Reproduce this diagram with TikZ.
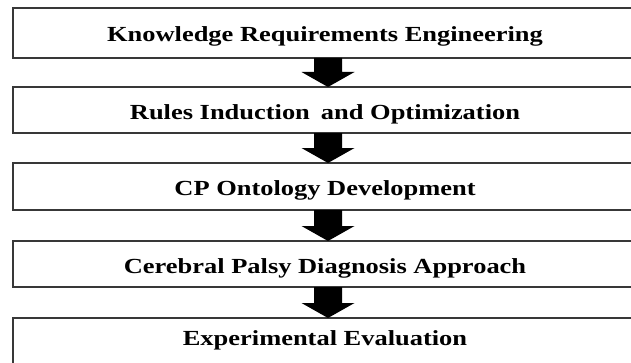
\documentclass[tikz,border=0pt]{standalone}
\usepackage{fontspec}
\setmainfont{Liberation Serif}
\usetikzlibrary{calc}
\definecolor{edge}{HTML}{383838}
\newcommand\wlbl[1]{\scalebox{1.23}[1]{#1}}
\newcommand\blockarr[2]{%
  \fill[black] ([xshift=-11pt]#1.south) -- ([xshift=-11pt,yshift=15pt]#2.north)
    -- ([xshift=-23.5pt,yshift=15pt]#2.north) -- ([xshift=3pt]#2.north)
    -- ([xshift=29.5pt,yshift=15pt]#2.north) -- ([xshift=17pt,yshift=15pt]#2.north)
    -- ([xshift=17pt]#1.south) -- cycle;}
\begin{document}
\begin{tikzpicture}[x=1pt,y=1pt,
  stagebox/.style={draw=edge, line width=1.5pt, fill=white, rectangle,
    minimum width=624pt, inner sep=0pt, outer sep=0pt,
    text height=18pt, text depth=0pt,
    font=\fontsize{21.5}{24}\selectfont\bfseries}]
\clip (0,0) rectangle (631,362);
\fill[white] (0,0) rectangle (631,362);
\node[stagebox, minimum height=50pt] (b1) at (325,329) {\wlbl{Knowledge Requirements Engineering}};
\node[stagebox, minimum height=46pt] (b2) at (325,252) {\wlbl{Rules Induction\,\ and Optimization}};
\node[stagebox, minimum height=47pt] (b3) at (325,175.5) {\wlbl{CP Ontology Development}};
\node[stagebox, minimum height=46pt] (b4) at (325,98) {\wlbl{Cerebral Palsy Diagnosis Approach}};
\node[stagebox, minimum height=48pt, text height=6pt] (b5) at (325,20) {\wlbl{Experimental Evaluation}};
\blockarr{b1}{b2}
\blockarr{b2}{b3}
\blockarr{b3}{b4}
\blockarr{b4}{b5}
\end{tikzpicture}
\end{document}
